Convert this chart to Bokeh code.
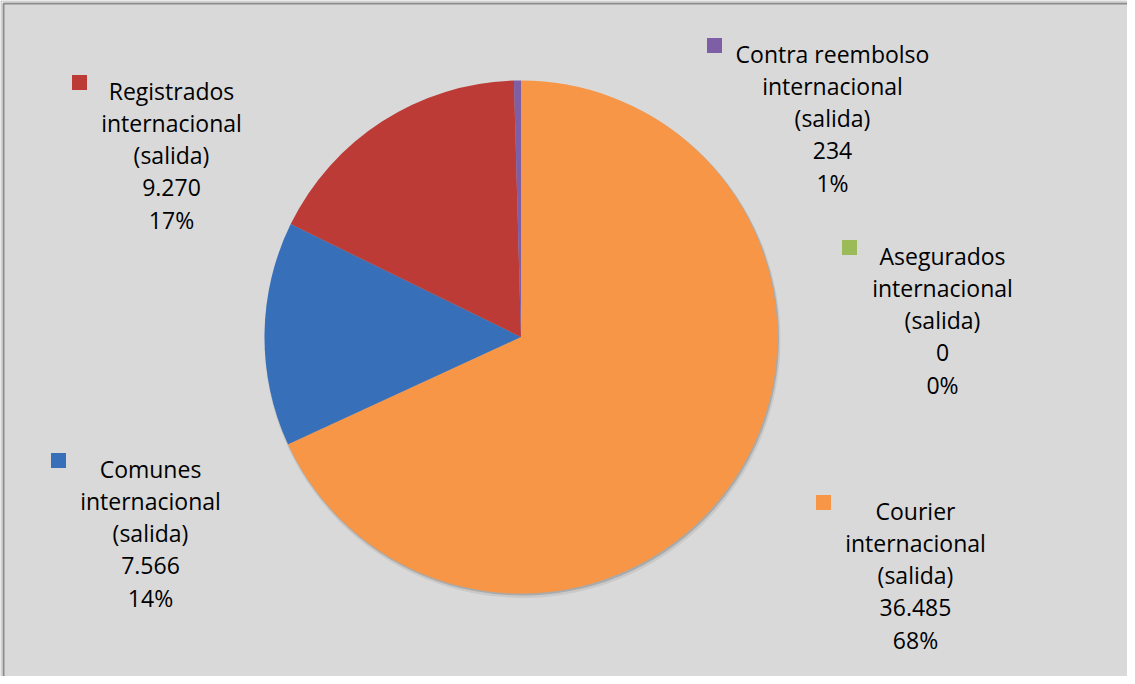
import math
from bokeh.plotting import figure
from bokeh.models import Range1d, ColumnDataSource
from bokeh.embed import file_html
from bokeh.resources import INLINE
from bokeh.core.properties import value

# ---------------- data ----------------
categories = ["Courier", "Comunes", "Registrados", "Contra reembolso", "Asegurados"]
values = [36485, 7566, 9270, 234, 0]
pct_labels = ["68%", "14%", "17%", "1%", "0%"]
second_line = "internacional"
third_line = "(salida)"

# ---------------- styles / layout ----------------
colors = ["#F79646", "#3770B9", "#BD3B37", "#7E5FA6", "#9BBB59"]
# label block anchors (screen px): center x, first baseline y
label_cx = [923, 158, 179, 840, 950]
label_y0 = [518, 476, 98, 61, 263]
key_x = [831, 66, 87, 722, 857]
line_gap = 32.4

W, H = 1127, 676
def sy(y):  # screen y -> data y
    return 684 - y

p = figure(width=W, height=H, output_backend="svg", toolbar_location=None,
           x_range=Range1d(8, 8 + W), y_range=Range1d(0, H), min_border=0)
p.axis.visible = False
p.grid.visible = False
p.outline_line_color = None
p.background_fill_color = "white"
p.border_fill_color = "white"

# frame: double border
p.quad(left=[8.5], right=[1140], top=[sy(8.5)], bottom=[-10],
       fill_color="white", line_color="#A6A6A6", line_width=1)
p.quad(left=[11], right=[1140], top=[sy(11)], bottom=[-10],
       fill_color="#D9D9D9", line_color="#8C8C8C", line_width=2)

cx, cy, r = 528.5, sy(344.5), 256.5

# soft shadow
p.circle(x=[cx + 1.5], y=[cy - 3], radius=r + 1.5, fill_color="#7F7F7F",
         fill_alpha=0.18, line_color=None)
p.circle(x=[cx + 1], y=[cy - 1.5], radius=r + 0.5, fill_color="#6F6F6F",
         fill_alpha=0.35, line_color=None)

total = sum(values)
starts, ends, cols = [], [], []
cum = 0.0
for v, c in zip(values, colors):
    a0 = math.pi / 2 - 2 * math.pi * cum / total
    cum += v
    a1 = math.pi / 2 - 2 * math.pi * cum / total
    if v > 0:
        starts.append(a0)
        ends.append(a1)
        cols.append(c)

src = ColumnDataSource(dict(start=starts, end=ends, color=cols,
                            x=[cx] * len(cols), y=[cy] * len(cols)))
p.wedge(x="x", y="y", radius=r, start_angle="start", end_angle="end",
        direction="clock", fill_color="color", line_color=None, source=src)

# labels
fnt = value("Open Sans")
for i, name in enumerate(categories):
    lines = [name, second_line, third_line,
             f"{values[i]:,}".replace(",", "."), pct_labels[i]]
    ys = [sy(label_y0[i] + k * line_gap) for k in range(len(lines))]
    p.text(x=[label_cx[i]] * len(lines), y=ys, text=lines, text_font=fnt,
           text_font_size="23px", text_align="center",
           text_baseline="alphabetic", text_color="#000000")
    p.rect(x=[key_x[i]], y=[sy(label_y0[i] - 8)], width=15, height=15,
           fill_color=colors[i], line_color=None)

open("out.html", "w").write(file_html(p, INLINE))
